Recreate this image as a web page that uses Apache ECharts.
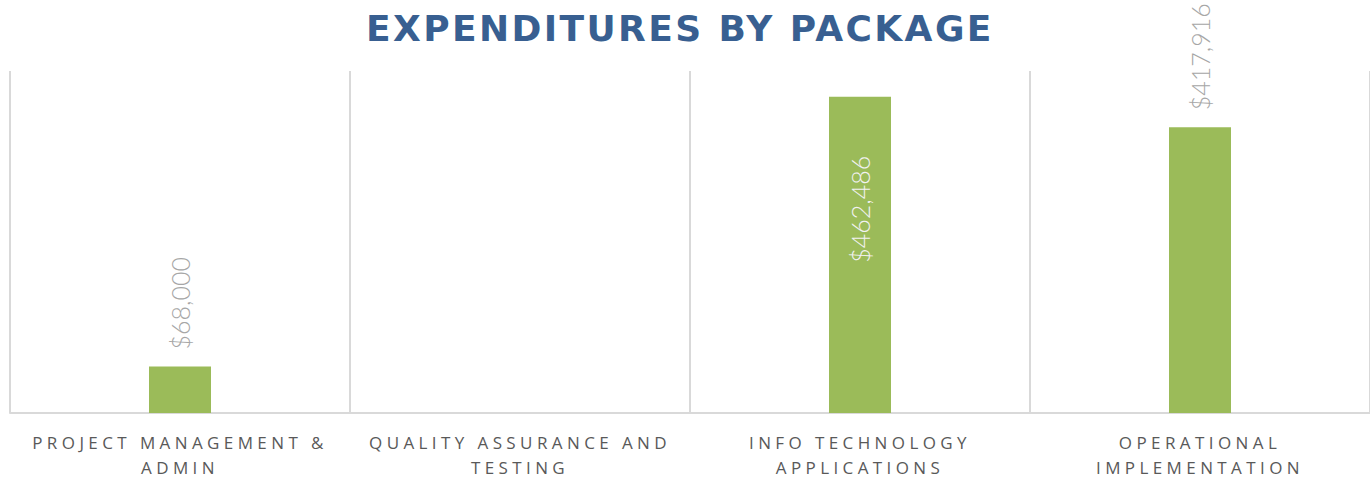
<!DOCTYPE html>
<html>
<head>
<meta charset="utf-8">
<title>Expenditures by Package</title>
<script src="https://cdn.jsdelivr.net/npm/echarts@6/dist/echarts.min.js"></script>
<style>
  html, body { margin: 0; padding: 0; background: #ffffff; }
  #chart { width: 1370px; height: 480px; }
  /* tracked-out capitals for the heading and the category names */
  #chart svg text[fill="#385f91"] { letter-spacing: 2.4px; }
  #chart svg text[fill="#595959"] { letter-spacing: 4.4px; }
</style>
</head>
<body>
<div id="chart"></div>
<script>
// Spending per work package, in dollars
const categories = [
  'Project Management & Admin',
  'Quality Assurance and Testing',
  'Info Technology Applications',
  'Operational Implementation'
];
const spending = [68000, null, 462486, 417916];
const valueMax = 500000;

const BAR_GREEN = '#9bbb59';
const GRID_GREY = '#d9d9d9';

function money(v) {
  return '$' + v.toLocaleString('en-US');
}

// Wrap a category name into upper-case lines of at most maxLen characters
function wrapName(name, maxLen) {
  const words = name.toUpperCase().split(' ');
  const lines = [];
  let cur = '';
  words.forEach(w => {
    const next = cur ? cur + ' ' + w : w;
    if (next.length > maxLen && cur) { lines.push(cur); cur = w; }
    else cur = next;
  });
  if (cur) lines.push(cur);
  return lines.join('\n');
}

// Tall bars carry their value inside the top end, the rest above the bar
const barData = spending.map(v => {
  if (v == null) return { value: null, label: { show: false } };
  const inside = v / valueMax > 0.9;
  return {
    value: v,
    label: inside
      ? { show: true, position: 'insideTop', distance: 59, align: 'right', color: '#f2f2f2' }
      : { show: true, position: 'top', distance: 17, align: 'left', color: '#a6a6a6' }
  };
});

const chart = echarts.init(document.getElementById('chart'), null, { renderer: 'svg' });
chart.setOption({
  animation: false,
  backgroundColor: '#ffffff',
  title: {
    text: 'EXPENDITURES BY PACKAGE',
    left: 361,
    top: 5,
    textStyle: {
      fontFamily: 'DejaVu Sans',
      fontWeight: 'bold',
      fontSize: 36,
      color: '#385f91'
    }
  },
  grid: { left: 10, right: -1, top: 71, bottom: 67 },
  xAxis: {
    type: 'category',
    data: categories,
    boundaryGap: true,
    axisLine: { show: true, lineStyle: { color: GRID_GREY, width: 2 } },
    axisTick: { show: false },
    splitLine: { show: true, interval: 0, lineStyle: { color: GRID_GREY, width: 2 } },
    axisLabel: {
      interval: 0,
      margin: 17,
      fontFamily: 'Open Sans',
      fontSize: 17,
      lineHeight: 25,
      color: '#595959',
      formatter: name => wrapName(name, 21)
    }
  },
  yAxis: {
    type: 'value',
    min: 0,
    max: valueMax,
    show: false,
    splitLine: { show: false }
  },
  series: [{
    type: 'bar',
    data: barData,
    barWidth: 62,
    itemStyle: { color: BAR_GREEN },
    label: {
      rotate: 90,
      verticalAlign: 'middle',
      fontFamily: 'Lato',
      fontWeight: 300,
      fontSize: 25,
      formatter: p => money(p.value)
    }
  }]
});
</script>
</body>
</html>
